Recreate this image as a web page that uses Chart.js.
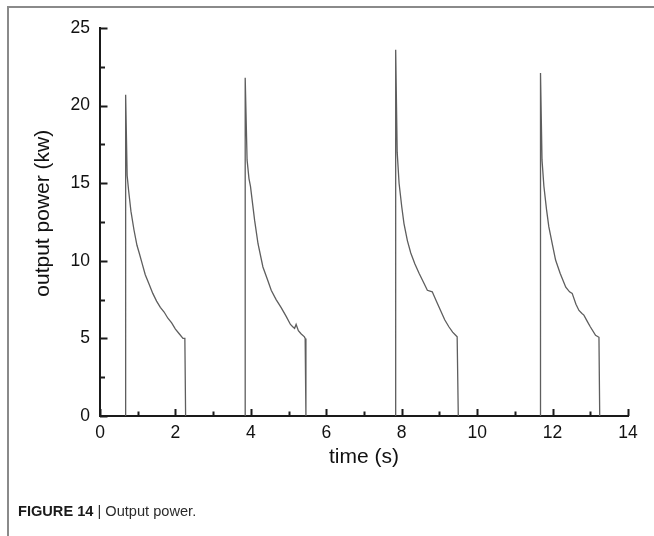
<!DOCTYPE html>
<html>
<head>
<meta charset="utf-8">
<title>Output power</title>
<script src="https://cdn.jsdelivr.net/npm/chart.js@4.4.1/dist/chart.umd.min.js"></script>
<style>
  html, body { margin: 0; padding: 0; background: #fff; }
  #wrap { position: relative; width: 654px; height: 536px; overflow: hidden; }
  #frame {
    position: absolute; left: 7px; top: 6px; width: 700px; height: 600px;
    border-left: 2px solid #8a8a8a; border-top: 2px solid #8a8a8a;
  }
  #chart { position: absolute; left: 0; top: 0; }
  #caption {
    position: absolute; left: 18px; top: 503px;
    font: 14.6px "Liberation Sans", Arial, sans-serif; color: #2a2a2a;
  }
  #caption b { font-weight: bold; color: #1a1a1a; }
</style>
</head>
<body>
<div id="wrap">
  <div id="frame"></div>
  <canvas id="chart" width="654" height="536"></canvas>
  <div id="caption"><b>FIGURE 14</b> | Output power.</div>
</div>
<script>
// values: time (s) and output power (kw), one pair of arrays per pulse
const pulse1Time  = [0.68, 0.68, 0.72, 0.76, 0.82, 0.90, 0.98, 1.04, 1.12, 1.20, 1.30, 1.40, 1.50, 1.60, 1.70, 1.80, 1.90, 2.00, 2.10, 2.20, 2.25, 2.27];
const pulse1Power = [0,    20.7, 15.5, 14.5, 13.2, 12.0, 11.0, 10.5, 9.8,  9.1,  8.5,  7.9,  7.4,  7.0,  6.7,  6.3,  6.0,  5.6,  5.3,  5.0,  5.0,  0];

const pulse2Time  = [3.85, 3.85, 3.90, 3.95, 3.99, 4.10, 4.19, 4.32, 4.44, 4.54, 4.67, 4.80, 4.94, 5.05, 5.11, 5.16, 5.20, 5.26, 5.33, 5.42, 5.44, 5.46];
const pulse2Power = [0,    21.8, 16.5, 15.3, 14.8, 12.6, 11.1, 9.6,  8.8,  8.1,  7.5,  7.0,  6.4,  5.9,  5.75, 5.65, 5.9,  5.5,  5.3,  5.1,  5.0,  0];

const pulse3Time  = [7.84, 7.84, 7.88, 7.93, 8.00, 8.06, 8.15, 8.24, 8.35, 8.46, 8.58, 8.68, 8.81, 8.92, 9.03, 9.14, 9.25, 9.35, 9.43, 9.47, 9.50];
const pulse3Power = [0,    23.6, 17.0, 15.0, 13.5, 12.4, 11.3, 10.5, 9.8,  9.2,  8.6,  8.1,  8.0,  7.4,  6.8,  6.2,  5.75, 5.4,  5.2,  5.1,  0];

const pulse4Time  = [11.68, 11.68, 11.72, 11.77, 11.84, 11.90, 12.00, 12.08, 12.20, 12.35, 12.45, 12.52, 12.62, 12.70, 12.78, 12.83, 12.92, 13.00, 13.14, 13.23, 13.25];
const pulse4Power = [0,     22.1,  16.5,  14.8,  13.3,  12.2,  11.0,  10.05, 9.2,   8.3,   8.0,   7.9,   7.2,   6.8,   6.6,   6.5,   6.1,   5.75,  5.2,   5.07,  0];

const xTickLabels = ["0", "2", "4", "6", "8", "10", "12", "14"];
const yTickLabels = ["0", "5", "10", "15", "20", "25"];

const pulses = [
  [pulse1Time, pulse1Power],
  [pulse2Time, pulse2Power],
  [pulse3Time, pulse3Power],
  [pulse4Time, pulse4Power],
];

const FONT = '"Liberation Sans", Arial, sans-serif';
const AXIS_COLOR = "#1a1a1a";

// tick marks point into the plot, like the original Origin-style axes
const innerTicks = {
  id: "innerTicks",
  afterDatasetsDraw(chart) {
    const { ctx, chartArea, scales } = chart;
    ctx.save();
    ctx.strokeStyle = AXIS_COLOR;
    ctx.lineWidth = 2;
    ctx.beginPath();
    for (let v = 0; v <= 14; v += 1) {
      const px = Math.round(scales.x.getPixelForValue(v)) + 0.5;
      const len = v % 2 === 0 ? 7 : 4.5;
      ctx.moveTo(px, chartArea.bottom);
      ctx.lineTo(px, chartArea.bottom - len);
    }
    for (let v = 0; v <= 25; v += 2.5) {
      const py = Math.round(scales.y.getPixelForValue(v)) + 0.5;
      const len = v % 5 === 0 ? 7.5 : 5;
      ctx.moveTo(chartArea.left, py);
      ctx.lineTo(chartArea.left + len, py);
    }
    ctx.stroke();
    ctx.restore();
  },
};

document.addEventListener("DOMContentLoaded", () => {
  const ctx = document.getElementById("chart").getContext("2d");
  new Chart(ctx, {
    type: "scatter",
    data: {
      datasets: pulses.map(([t, p], i) => ({
        label: `pulse ${i + 1}`,
        data: t.map((x, k) => ({ x, y: p[k] })),
        showLine: true,
        borderColor: "#5e5e5e",
        borderWidth: 1.3,
        pointRadius: 0,
        tension: 0,
      })),
    },
    options: {
      responsive: false,
      animation: false,
      layout: { padding: { left: 0, top: 28, right: 26, bottom: 56 } },
      plugins: { legend: { display: false }, tooltip: { enabled: false } },
      scales: {
        x: {
          type: "linear",
          min: 0,
          max: 14,
          afterFit(s) { s.height = 64; },
          grid: { display: false, drawTicks: false },
          border: { display: true, color: AXIS_COLOR, width: 2 },
          ticks: {
            stepSize: 2,
            padding: 7,
            color: "#111",
            font: { family: FONT, size: 17.5 },
            callback: (v) => xTickLabels[v / 2],
          },
          title: {
            display: true,
            text: "time (s)",
            color: "#111",
            font: { family: FONT, size: 21 },
            padding: { top: 0, bottom: 10 },
          },
        },
        y: {
          type: "linear",
          min: 0,
          max: 25,
          afterFit(s) { s.width = 100; },
          grid: { display: false, drawTicks: false },
          border: { display: true, color: AXIS_COLOR, width: 2 },
          ticks: {
            stepSize: 5,
            padding: 10,
            color: "#111",
            font: { family: FONT, size: 17.5 },
            callback: (v) => yTickLabels[v / 5],
          },
          title: {
            display: true,
            // leading spaces nudge the rotated label a little above the axis middle
            text: "   output power (kw)",
            color: "#111",
            font: { family: FONT, size: 21 },
            padding: { top: 31, bottom: 0 },
          },
        },
      },
    },
    plugins: [innerTicks],
  });
});
</script>
</body>
</html>
